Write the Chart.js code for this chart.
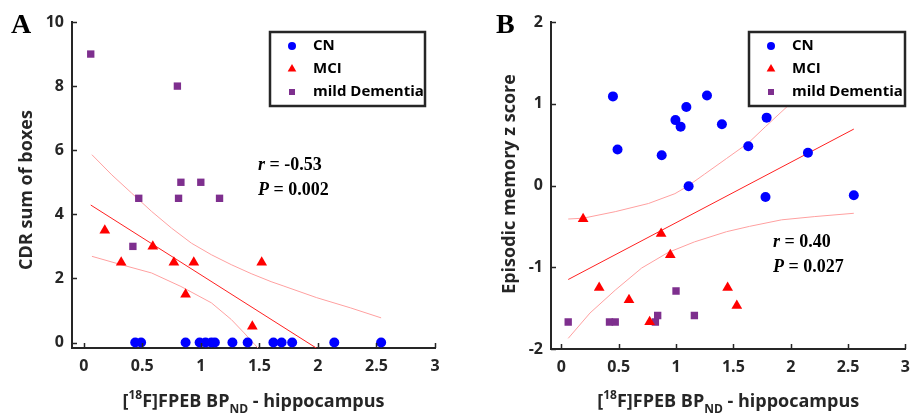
<!DOCTYPE html>
<html>
<head>
<meta charset="utf-8">
<script src="https://cdn.jsdelivr.net/npm/chart.js@4.4.0/dist/chart.umd.min.js"></script>
<style>
  html, body { margin: 0; padding: 0; background: #fff; }
  #wrap { display: flex; width: 919px; height: 416px; }
  canvas { display: block; }
</style>
</head>
<body>
<div id="wrap">
  <canvas id="chartA" width="459" height="416"></canvas>
  <canvas id="chartB" width="460" height="416"></canvas>
</div>
<script>
const groups = ['CN', 'MCI', 'mild Dementia'];
const groupColors = ['#0000ff', '#ff0000', '#7e2f8e'];
const xTicks = [0, 0.5, 1, 1.5, 2, 2.5, 3];
const yTicksA = [0, 2, 4, 6, 8, 10];
const yTicksB = [-2, -1, 0, 1, 2];

// panel A - CDR sum of boxes
const cnA_x = [0.44, 0.49, 0.87, 0.99, 1.04, 1.09, 1.12, 1.27, 1.40, 1.62, 1.69, 1.78, 2.14, 2.54];
const cnA_y = [0, 0, 0, 0, 0, 0, 0, 0, 0, 0, 0, 0, 0, 0];
const mciA_x = [0.18, 0.32, 0.59, 0.77, 0.87, 0.94, 1.44, 1.52];
const mciA_y = [3.5, 2.5, 3, 2.5, 1.5, 2.5, 0.5, 2.5];
const demA_x = [0.06, 0.42, 0.47, 0.80, 0.81, 0.83, 1.00, 1.16];
const demA_y = [9, 3, 4.5, 8, 4.5, 5, 5, 4.5];
const fitA_x = [0.06, 1.99];
const fitA_y = [4.29, -0.18];
const hiA_x = [0.07, 0.24, 0.41, 0.58, 0.75, 0.92, 1.09, 1.26, 1.43, 1.60, 1.71, 1.99, 2.28, 2.54];
const hiA_y = [5.86, 5.23, 4.66, 4.09, 3.57, 3.10, 2.74, 2.43, 2.15, 1.90, 1.76, 1.40, 1.08, 0.77];
const loA_x = [0.07, 0.32, 0.58, 0.83, 1.09, 1.26, 1.37, 1.46, 1.52];
const loA_y = [2.69, 2.43, 2.17, 1.75, 1.24, 0.72, 0.30, -0.06, -0.30];

// panel B - episodic memory
const cnB_x = [0.45, 0.49, 0.875, 0.995, 1.04, 1.09, 1.11, 1.27, 1.40, 1.63, 1.79, 1.78, 2.15, 2.55];
const cnB_y = [1.09, 0.44, 0.37, 0.80, 0.72, 0.96, -0.01, 1.10, 0.75, 0.48, 0.83, -0.14, 0.40, -0.12];
const mciB_x = [0.19, 0.33, 0.59, 0.77, 0.87, 0.95, 1.45, 1.53];
const mciB_y = [-0.41, -1.25, -1.40, -1.67, -0.59, -0.85, -1.25, -1.47];
const demB_x = [0.06, 0.42, 0.47, 0.82, 0.84, 1.00, 1.16];
const demB_y = [-1.67, -1.67, -1.67, -1.67, -1.59, -1.29, -1.59];
const fitB_x = [0.06, 2.55];
const fitB_y = [-1.15, 0.69];
const hiB_x = [0.06, 0.19, 0.47, 0.76, 0.99, 1.10, 1.25, 1.44, 1.63, 1.78, 1.98, 2.25, 2.55];
const hiB_y = [-0.41, -0.40, -0.32, -0.22, -0.10, -0.01, 0.14, 0.33, 0.52, 0.72, 0.98, 1.33, 1.73];
const loB_x = [0.06, 0.25, 0.47, 0.70, 0.93, 1.16, 1.44, 1.64, 1.92, 2.21, 2.55];
const loB_y = [-1.87, -1.56, -1.28, -1.01, -0.82, -0.69, -0.565, -0.50, -0.42, -0.38, -0.34];

const axisColor = '#262626';
Chart.defaults.font.family = "'Open Sans', sans-serif";
Chart.defaults.color = axisColor;

function pts(xs, ys) {
  return xs.map((x, i) => ({ x: x, y: ys[i] }));
}

function marker(ctx, shape, x, y, r, color) {
  ctx.fillStyle = color;
  ctx.beginPath();
  if (shape === 'circle') {
    ctx.arc(x, y, r, 0, Math.PI * 2);
  } else if (shape === 'triangle') {
    ctx.moveTo(x, y - r);
    ctx.lineTo(x + r * 0.866, y + r * 0.5);
    ctx.lineTo(x - r * 0.866, y + r * 0.5);
    ctx.closePath();
  } else {
    ctx.rect(x - r, y - r, 2 * r, 2 * r);
  }
  ctx.fill();
}

const decor = {
  id: 'decor',
  afterDatasetsDraw(chart, args, o) {
    const ctx = chart.ctx;
    const b = o.legendBox;
    ctx.save();
    ctx.fillStyle = '#fff';
    ctx.fillRect(b.x, b.y, b.w, b.h);
    ctx.strokeStyle = axisColor;
    ctx.lineWidth = 2.5;
    ctx.strokeRect(b.x, b.y, b.w, b.h);
    ctx.font = "bold 15px 'Open Sans'";
    ctx.textBaseline = 'middle';
    ctx.textAlign = 'left';
    const shapes = ['circle', 'triangle', 'rect'];
    const sizes = [4, 5, 3];
    groups.forEach((g, i) => {
      const cy = b.y + 14 + i * 23;
      marker(ctx, shapes[i], b.x + 22, cy, sizes[i], groupColors[i]);
      ctx.fillStyle = '#000';
      ctx.fillText(g, b.x + 43, cy);
    });
    ctx.restore();
  },
  afterDraw(chart, args, o) {
    const ctx = chart.ctx;
    const area = chart.chartArea;
    const xs = chart.scales.x, ys = chart.scales.y;
    ctx.save();
    // inward tick marks
    ctx.strokeStyle = axisColor;
    ctx.lineWidth = 1.5;
    ctx.beginPath();
    xs.ticks.forEach(t => {
      const px = Math.round(xs.getPixelForValue(t.value)) + 0.5;
      ctx.moveTo(px, area.bottom);
      ctx.lineTo(px, area.bottom - 5);
    });
    ys.ticks.forEach(t => {
      const py = Math.round(ys.getPixelForValue(t.value)) + 0.5;
      ctx.moveTo(area.left, py);
      ctx.lineTo(area.left + 5, py);
    });
    ctx.stroke();

    // y title
    ctx.fillStyle = axisColor;
    ctx.font = "bold 18px 'Open Sans'";
    ctx.textAlign = 'center';
    ctx.textBaseline = 'middle';
    ctx.save();
    ctx.translate(o.yTitleX, o.yTitleY);
    ctx.rotate(-Math.PI / 2);
    ctx.fillText(o.yTitle, 0, 0);
    ctx.restore();

    // x title with super/subscript
    const big = "bold 18px 'Open Sans'", small = "bold 12px 'Open Sans'";
    const parts = [
      { t: '[', f: big, dy: 0 },
      { t: '18', f: small, dy: -8 },
      { t: 'F]FPEB BP', f: big, dy: 0 },
      { t: 'ND', f: small, dy: 6 },
      { t: ' - hippocampus', f: big, dy: 0 }
    ];
    let total = 0;
    parts.forEach(p => { ctx.font = p.f; p.w = ctx.measureText(p.t).width; total += p.w; });
    let cx = (area.left + area.right) / 2 - total / 2;
    ctx.textAlign = 'left';
    ctx.textBaseline = 'alphabetic';
    parts.forEach(p => {
      ctx.font = p.f;
      ctx.fillText(p.t, cx, 407 + p.dy);
      cx += p.w;
    });

    // panel letter
    ctx.fillStyle = '#000';
    ctx.font = "bold 28px 'Liberation Serif'";
    ctx.fillText(o.letter, o.letterX, 33);

    // statistics
    o.stats.forEach((s, i) => {
      let x = o.statX;
      const y = o.statY + i * 25;
      ctx.textBaseline = 'middle';
      ctx.font = "italic bold 18px 'Liberation Serif'";
      ctx.fillText(s[0], x, y);
      x += ctx.measureText(s[0]).width;
      ctx.font = "bold 18px 'Liberation Serif'";
      ctx.fillText(s[1], x, y);
    });
    ctx.restore();
  }
};

function makeChart(id, d) {
  const datasets = [
    { data: pts(d.cn[0], d.cn[1]), pointStyle: 'circle', pointRadius: 5, backgroundColor: groupColors[0] },
    { data: pts(d.mci[0], d.mci[1]), pointStyle: 'triangle', pointRadius: 6.2, backgroundColor: groupColors[1] },
    { data: pts(d.dem[0], d.dem[1]), pointStyle: 'rect', pointRadius: 5.2, backgroundColor: groupColors[2] },
    { data: pts(d.fit[0], d.fit[1]), showLine: true, pointRadius: 0, borderColor: '#ff2020', borderWidth: 1 },
    { data: pts(d.hi[0], d.hi[1]), showLine: true, pointRadius: 0, borderColor: '#ffa0a0', borderWidth: 1 },
    { data: pts(d.lo[0], d.lo[1]), showLine: true, pointRadius: 0, borderColor: '#ffa0a0', borderWidth: 1 }
  ];
  datasets.forEach(ds => { ds.pointBorderWidth = 0; ds.fill = false; });
  return new Chart(document.getElementById(id), {
    type: 'scatter',
    data: { datasets: datasets },
    plugins: [decor],
    options: {
      responsive: false,
      animation: false,
      devicePixelRatio: 1,
      events: [],
      layout: { padding: d.padding },
      scales: {
        x: {
          type: 'linear',
          min: d.xMin, max: 3,
          afterFit: s => { s.height = d.xHeight; },
          afterBuildTicks: s => { s.ticks = xTicks.map(v => ({ value: v })); },
          grid: { display: true, drawOnChartArea: false, drawTicks: false },
          border: { display: true, color: axisColor, width: 2 },
          ticks: { padding: 9, font: { size: 16, weight: 'bold' }, color: axisColor, callback: v => String(v) }
        },
        y: {
          type: 'linear',
          min: d.yMin, max: d.yMax,
          afterFit: s => { s.width = d.yWidth; },
          afterBuildTicks: s => { s.ticks = d.yTicks.map(v => ({ value: v })); },
          grid: { display: true, drawOnChartArea: false, drawTicks: false },
          border: { display: true, color: axisColor, width: 2 },
          ticks: { padding: 8, font: { size: 16, weight: 'bold' }, color: axisColor, callback: v => String(v) }
        }
      },
      plugins: {
        legend: { display: false },
        tooltip: { enabled: false },
        decor: d.decor
      }
    }
  });
}

makeChart('chartA', {
  cn: [cnA_x, cnA_y], mci: [mciA_x, mciA_y], dem: [demA_x, demA_y],
  fit: [fitA_x, fitA_y], hi: [hiA_x, hiA_y], lo: [loA_x, loA_y],
  xMin: -0.1, yMin: -0.17, yMax: 10, yTicks: yTicksA,
  padding: { left: 0, right: 24, top: 22, bottom: 0 }, yWidth: 72, xHeight: 68,
  decor: {
    legendBox: { x: 270, y: 32, w: 155, h: 74 },
    yTitle: 'CDR sum of boxes', yTitleX: 27, yTitleY: 190,
    letter: 'A', letterX: 11,
    stats: [['r', ' = -0.53'], ['P', ' = 0.002']], statX: 258, statY: 165
  }
});

makeChart('chartB', {
  cn: [cnB_x, cnB_y], mci: [mciB_x, mciB_y], dem: [demB_x, demB_y],
  fit: [fitB_x, fitB_y], hi: [hiB_x, hiB_y], lo: [loB_x, loB_y],
  xMin: -0.09, yMin: -2, yMax: 2, yTicks: yTicksB,
  padding: { left: 0, right: 6, top: 22, bottom: 0 }, yWidth: 92, xHeight: 67,
  decor: {
    legendBox: { x: 290, y: 32, w: 156, h: 74 },
    yTitle: 'Episodic memory z score', yTitleX: 51, yTitleY: 184,
    letter: 'B', letterX: 37,
    stats: [['r', ' = 0.40'], ['P', ' = 0.027']], statX: 314, statY: 242
  }
});
</script>
</body>
</html>
